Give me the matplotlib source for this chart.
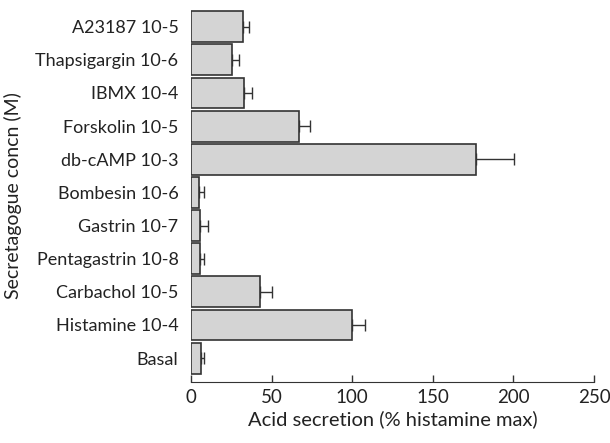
import matplotlib
matplotlib.use("Agg")
import matplotlib.pyplot as plt

categories = ["Basal", "Histamine 10-4", "Carbachol 10-5", "Pentagastrin 10-8",
              "Gastrin 10-7", "Bombesin 10-6", "db-cAMP 10-3", "Forskolin 10-5",
              "IBMX 10-4", "Thapsigargin 10-6", "A23187 10-5"]
values = [6.2, 100, 43, 5.4, 5.4, 4.8, 177, 67, 33, 25.7, 32]
errors = [2.0, 8.0, 7.0, 2.5, 5.4, 3.0, 23.4, 7.0, 4.6, 4.2, 4.0]
xticks = [0, 50, 100, 150, 200, 250]

plt.rcParams['font.family'] = ['Lato', 'DejaVu Sans']

fig = plt.figure(figsize=(6.10, 4.43), dpi=100)
ax = fig.add_axes([0.313, 0.1377, 0.661, 0.841])

pos = list(range(len(categories)))
ax.barh(pos, values, height=0.93, color="#d4d4d4", edgecolor="#333333", linewidth=1.2, zorder=2)
ax.errorbar(values, pos, xerr=[[0]*len(errors), errors], fmt="none", ecolor="#333333",
            elinewidth=1.0, capsize=4, capthick=1.0, zorder=1)

ax.set_xlim(0, 250)
ax.set_ylim(-0.72, 10.52)
ax.set_xticks(xticks)
ax.set_yticks(pos)
ax.set_yticklabels(categories, fontsize=13, color="#222222")
ax.tick_params(axis='x', direction='in', length=5, width=1, labelsize=13.5, pad=5,
               color="#333333", labelcolor="#222222")
ax.tick_params(axis='y', length=0, pad=9)
for s in ["top", "right", "left"]:
    ax.spines[s].set_visible(False)
ax.spines["bottom"].set_color("#333333")
ax.set_xlabel("Acid secretion (% histamine max)", fontsize=14.5, color="#222222", labelpad=3)
ax.set_ylabel("Secretagogue concn (M)", fontsize=14, color="#222222", labelpad=10)

fig.savefig("out.png", dpi=100)
